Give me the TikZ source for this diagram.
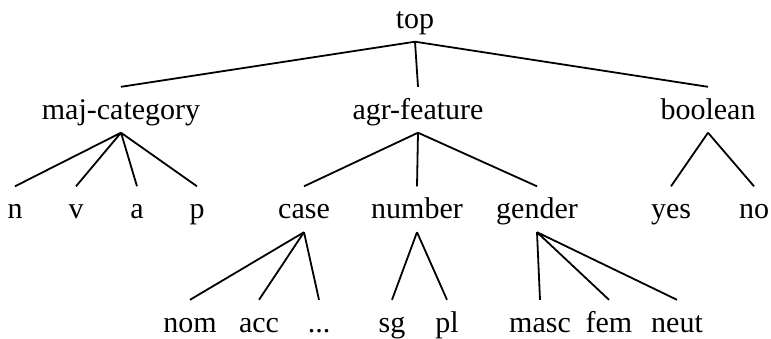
\documentclass[tikz,border=0pt]{standalone}
\usepackage{fontspec}
\setmainfont{Liberation Serif}
\usepackage{tikz}

\begin{document}
\begin{tikzpicture}[x=1bp,y=-1bp,
    every node/.style={font=\fontsize{30bp}{36bp}\selectfont,inner sep=0pt,
      text height=32bp,text depth=13.5bp,anchor=base},
    branch/.style={line width=1.8bp}]
    \useasboundingbox (0,0) rectangle (771,338);
    \node (top) at (415,28) {top};

    \node (majcat) at (121,119) {maj-category};
    \node (agr) at (418,119) {agr-feature};
    \node (bool) at (708,119) {boolean};

    \node (n) at (15,218.5) {n};
    \node (v) at (76,218.5) {v};
    \node (a) at (137,218.5) {a};
    \node (p) at (197,218.5) {p};
    \node (case) at (304,218.5) {case};
    \node (number) at (417,218.5) {number};
    \node (gender) at (537,218.5) {gender};
    \node (yes) at (671,218.5) {yes};
    \node (no) at (754,218.5) {no};

    \node (nom) at (190,332) {nom};
    \node (acc) at (259,332) {acc};
    \node (dots) at (319,332) {...};
    \node (sg) at (392,332) {sg};
    \node (pl) at (447,332) {pl};
    \node (masc) at (540,332) {masc};
    \node (fem) at (609,332) {fem};
    \node (neut) at (677,332) {neut};

    \draw[branch] (top.south) -- (majcat.north) (top.south) -- (agr.north) (top.south) -- (bool.north);
    \draw[branch] (majcat.south) -- (n.north) (majcat.south) -- (v.north)
        (majcat.south) -- (a.north) (majcat.south) -- (p.north);
    \draw[branch] (agr.south) -- (case.north) (agr.south) -- (number.north) (agr.south) -- (gender.north);
    \draw[branch] (bool.south) -- (yes.north) (bool.south) -- (no.north);
    \draw[branch] (case.south) -- (nom.north) (case.south) -- (acc.north) (case.south) -- (dots.north);
    \draw[branch] (number.south) -- (sg.north) (number.south) -- (pl.north);
    \draw[branch] (gender.south) -- (masc.north) (gender.south) -- (fem.north) (gender.south) -- (neut.north);
\end{tikzpicture}
\end{document}
